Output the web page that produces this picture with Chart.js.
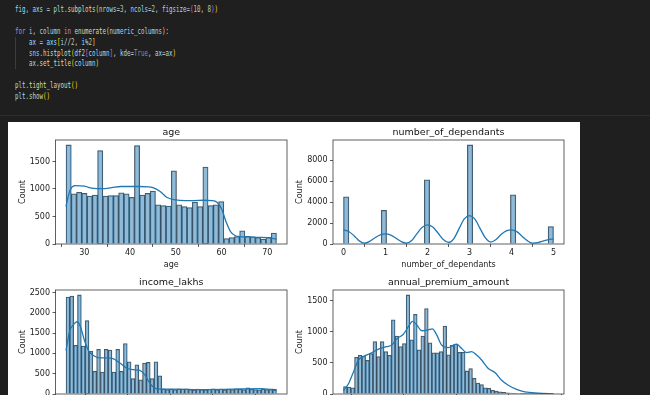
<!DOCTYPE html>
<html>
<head>
<meta charset="utf-8">
<script src="https://cdn.jsdelivr.net/npm/chart.js@4.4.0/dist/chart.umd.min.js"></script>
<style>
  html, body { margin: 0; padding: 0; }
  body { width: 650px; height: 395px; overflow: hidden; background: #1f1f1f; position: relative; }
  #code {
    position: absolute; left: 15.3px; top: 3.9px; margin: 0;
    font-family: 'DejaVu Sans Mono', monospace; font-size: 9px; line-height: 10.9px;
    color: #d4d4d4; white-space: pre;
    transform: scaleX(0.646); transform-origin: 0 0;
  }
  #guide { position: absolute; left: 15px; top: 37px; width: 1px; height: 32px; background: #3c3c3c; }
  #sep { position: absolute; left: 0; top: 115px; width: 650px; height: 1px; background: #2e2e2e; }
  #fig { position: absolute; left: 8px; top: 122px; width: 572px; height: 460px; background: #fff; }
  canvas { position: absolute; }
  .v { color: #9cdcfe; } .f { color: #dcdcaa; } .k { color: #c586c0; } .n { color: #b5cea8; }
  .c { color: #569cd6; } .b1 { color: #ffd700; } .b2 { color: #da70d6; }
</style>
</head>
<body>
<pre id="code"><span class="v">fig</span>, <span class="v">axs</span> = <span class="v">plt</span>.<span class="f">subplots</span><span class="b1">(</span><span class="v">nrows</span>=<span class="n">3</span>, <span class="v">ncols</span>=<span class="n">2</span>, <span class="v">figsize</span>=<span class="b2">(</span><span class="n">10</span>, <span class="n">8</span><span class="b2">)</span><span class="b1">)</span>

<span class="k">for</span> <span class="v">i</span>, <span class="v">column</span> <span class="k">in</span> <span class="f">enumerate</span><span class="b1">(</span><span class="v">numeric_columns</span><span class="b1">)</span>:
    <span class="v">ax</span> = <span class="v">axs</span><span class="b1">[</span><span class="v">i</span>//<span class="n">2</span>, <span class="v">i</span>%<span class="n">2</span><span class="b1">]</span>
    <span class="v">sns</span>.<span class="f">histplot</span><span class="b1">(</span><span class="v">df2</span><span class="b2">[</span><span class="v">column</span><span class="b2">]</span>, <span class="v">kde</span>=<span class="c">True</span>, <span class="v">ax</span>=<span class="v">ax</span><span class="b1">)</span>
    <span class="v">ax</span>.<span class="f">set_title</span><span class="b1">(</span><span class="v">column</span><span class="b1">)</span>

<span class="v">plt</span>.<span class="f">tight_layout</span><span class="b1">()</span>
<span class="v">plt</span>.<span class="f">show</span><span class="b1">()</span></pre>
<div id="guide"></div>
<div id="sep"></div>
<div id="fig"></div>
<canvas id="age-chart" width="290" height="150" style="left:8px;top:122px"></canvas>
<canvas id="dependants-chart" width="290" height="150" style="left:290px;top:122px"></canvas>
<canvas id="income-chart" width="290" height="150" style="left:8px;top:272px"></canvas>
<canvas id="premium-chart" width="290" height="150" style="left:290px;top:272px"></canvas>
<script>
// age: 40 bins from 26 to 72
const ageBinStart = 26;
const ageBinWidth = 1.15;
const ageCounts = [1800, 910, 940, 920, 870, 890, 1700, 870, 880, 880,
  930, 910, 850, 1790, 890, 920, 960, 710, 700, 690,
  1330, 710, 680, 660, 760, 680, 1400, 700, 710, 770,
  100, 115, 135, 240, 140, 130, 115, 90, 120, 200];
const ageKdeX = [26, 26.5, 27, 28, 30, 32, 34, 36, 38, 40, 42, 44, 45, 46.5, 48, 50, 52, 54, 56, 58, 59, 60, 61, 62, 63, 64, 66, 68, 70, 72];
const ageKdeY = [680, 870, 1000, 1060, 1050, 1010, 1005, 1025, 1045, 1045, 1045, 1040, 1025, 960, 850, 800, 790, 790, 795, 790, 760, 640, 400, 220, 150, 135, 130, 120, 115, 90];
const ageXTicks = [30, 40, 50, 60, 70];
const ageYTicks = [0, 500, 1000, 1500];

// number_of_dependants: 39 bins from 0 to 5
const depBinCount = 39;
const depValues = [0, 1, 2, 3, 4, 5];
const depCounts = [4520, 3220, 6150, 9480, 4700, 1670];
const depKdeX = [0, 0.125, 0.25, 0.375, 0.5, 0.625, 0.75, 0.875, 1, 1.125, 1.25, 1.375, 1.5, 1.625, 1.75, 1.875, 2,
  2.125, 2.25, 2.375, 2.5, 2.625, 2.75, 2.875, 3, 3.125, 3.25, 3.375, 3.5, 3.625, 3.75, 3.875, 4,
  4.125, 4.25, 4.375, 4.5, 4.625, 4.75, 4.875, 5];
const depKdeY = [1350, 1200, 800, 300, 80, 250, 600, 880, 960, 850, 550, 230, 90, 330, 1000, 1600, 1830,
  1620, 1050, 430, 150, 500, 1450, 2400, 2720, 2400, 1500, 600, 180, 400, 900, 1250, 1350,
  1180, 750, 320, 90, 130, 280, 420, 500];
const depXTicks = [0, 1, 2, 3, 4, 5];
const depYTicks = [0, 2000, 4000, 6000, 8000];

// income_lakhs: 55 bins from 1 to 100
const incomeBinStart = 1;
const incomeBinWidth = 1.8;
const incomeCounts = [2390, 2410, 1200, 2440, 1180, 1810, 1050, 560, 1100, 540,
  1100, 1080, 540, 1100, 560, 1240, 790, 380, 720, 350,
  760, 780, 380, 790, 450, 130, 110, 120, 110, 130,
  120, 130, 110, 100, 120, 110, 100, 120, 130, 110,
  120, 100, 120, 110, 130, 120, 110, 150, 120, 110,
  100, 120, 110, 130, 120];
const incomeKdeX = [1, 2.7, 4.6, 6.2, 7.7, 9.8, 11.8, 14.5, 16.8, 20, 23.1, 26.3, 29.4, 32.5, 35.7, 38, 40.4, 42.7, 45.1, 51.4, 63.9, 79.6, 92.2, 100];
const incomeKdeY = [1070, 1550, 1715, 1780, 1670, 1300, 1050, 930, 890, 890, 870, 765, 640, 600, 580, 475, 270, 145, 120, 120, 110, 120, 130, 85];
const incomeXTicks = [0, 20, 40, 60, 80, 100];
const incomeYTicks = [0, 500, 1000, 1500, 2000, 2500];

// annual_premium_amount: 57 bins from 3500 to 43500
const premiumBinStart = 3500;
const premiumBinWidth = 40000 / 57;
const premiumCounts = [120, 110, 100, 590, 620, 610, 540, 650, 840, 600,
  840, 680, 620, 1190, 930, 760, 810, 1590, 870, 1280,
  710, 930, 1370, 820, 660, 660, 680, 1090, 630, 780,
  800, 670, 670, 370, 410, 250, 175, 150, 100, 90,
  60, 45, 35, 25, 20, 15, 10, 8, 6, 5,
  4, 3, 2, 2, 1, 1, 1];
const premiumKdeX = [3500, 4450, 5400, 6350, 7300, 8570, 10160, 11740, 12690, 13640, 14910, 15860, 16620, 17450, 18400, 19670, 20430,
  21250, 22200, 23470, 24420, 25060, 26010, 26960, 27910, 28860, 29810, 31080, 32350, 33620, 34880, 36470, 38050, 40590, 43500];
const premiumKdeY = [57, 165, 355, 545, 600, 650, 720, 760, 785, 885, 960, 1080, 1165, 1110, 1015, 1030, 1045,
  950, 785, 745, 785, 800, 730, 665, 680, 625, 545, 410, 345, 220, 140, 75, 35, 15, 3];
const premiumXTicks = [10000, 20000, 30000, 40000];
const premiumYTicks = [0, 500, 1000, 1500];

const tickFont = { family: 'DejaVu Sans', size: 8 };
const textColor = '#222';

// matplotlib draws a full box round each axes
const framePlugin = {
  id: 'frame',
  afterDatasetsDraw(chart) {
    const { ctx, chartArea: a } = chart;
    ctx.save();
    ctx.strokeStyle = '#3a3a3a';
    ctx.lineWidth = 0.8;
    ctx.strokeRect(a.left, a.top, a.right - a.left, a.bottom - a.top);
    ctx.restore();
  }
};

function histChart(id, cfg) {
  const bars = cfg.counts.map((c, i) => ({ x: cfg.binStart + cfg.binWidth * (i + 0.5), y: c }));
  const kde = cfg.kdeX.map((x, i) => ({ x: x, y: cfg.kdeY[i] }));
  const lo = cfg.binStart;
  const hi = cfg.binStart + cfg.binWidth * cfg.counts.length;
  const margin = (hi - lo) * 0.05;

  return new Chart(document.getElementById(id), {
    type: 'bar',
    data: {
      datasets: [{
        type: 'line',
        data: kde,
        borderColor: '#1f77b4',
        borderWidth: 1.3,
        pointRadius: 0,
        cubicInterpolationMode: 'monotone',
        order: 0
      }, {
        data: bars,
        backgroundColor: 'rgba(31, 119, 180, 0.5)',
        borderColor: 'rgba(35, 45, 55, 0.8)',
        borderWidth: 0.6,
        barPercentage: 1,
        categoryPercentage: 1,
        order: 1
      }]
    },
    options: {
      responsive: false,
      animation: false,
      layout: { padding: { left: 0, right: cfg.padRight, top: 0, bottom: 0 } },
      plugins: {
        legend: { display: false },
        tooltip: { enabled: false },
        title: {
          display: true,
          text: cfg.title,
          fullSize: false,
          color: '#111',
          font: { family: 'DejaVu Sans', size: 9.5, weight: 'normal' },
          padding: { top: 4.5, bottom: 2.1 }
        }
      },
      scales: {
        x: {
          type: 'linear',
          min: lo - margin,
          max: hi + margin,
          offset: false,
          border: { display: false },
          grid: { drawOnChartArea: false, tickLength: 3, color: '#333', tickWidth: 0.8 },
          ticks: { padding: 1, color: textColor, font: tickFont, maxRotation: 0, autoSkip: false, callback: v => String(v) },
          title: { display: true, text: cfg.title, color: textColor, font: tickFont, padding: { top: 0, bottom: 2.7 } },
          afterBuildTicks: s => { s.ticks = cfg.xTicks.map(v => ({ value: v })); },
          afterFit: s => { s.height = 28; }
        },
        y: {
          min: 0,
          max: Math.max(...cfg.counts) * 1.05,
          border: { display: false },
          grid: { drawOnChartArea: false, tickLength: 3, color: '#333', tickWidth: 0.8 },
          ticks: { padding: 2.5, color: textColor, font: tickFont, autoSkip: false, callback: v => String(v) },
          title: { display: true, text: 'Count', color: textColor, font: tickFont, padding: { top: cfg.countPad, bottom: 0 } },
          afterBuildTicks: s => { s.ticks = cfg.yTicks.map(v => ({ value: v })); },
          afterFit: s => { s.width = cfg.yWidth; }
        }
      }
    },
    plugins: [framePlugin]
  });
}

histChart('age-chart', {
  title: 'age', counts: ageCounts, binStart: ageBinStart, binWidth: ageBinWidth,
  kdeX: ageKdeX, kdeY: ageKdeY, xTicks: ageXTicks, yTicks: ageYTicks,
  yWidth: 47.5, padRight: 11, countPad: 9.9
});

const depBinWidth = 5 / depBinCount;
const depBinned = new Array(depBinCount).fill(0);
depValues.forEach((v, i) => {
  depBinned[Math.min(Math.floor(v / depBinWidth), depBinCount - 1)] = depCounts[i];
});
histChart('dependants-chart', {
  title: 'number_of_dependants', counts: depBinned, binStart: 0, binWidth: depBinWidth,
  kdeX: depKdeX, kdeY: depKdeY, xTicks: depXTicks, yTicks: depYTicks,
  yWidth: 43, padRight: 16, countPad: 4.9
});

histChart('income-chart', {
  title: 'income_lakhs', counts: incomeCounts, binStart: incomeBinStart, binWidth: incomeBinWidth,
  kdeX: incomeKdeX, kdeY: incomeKdeY, xTicks: incomeXTicks, yTicks: incomeYTicks,
  yWidth: 47.5, padRight: 11, countPad: 9.9
});

histChart('premium-chart', {
  title: 'annual_premium_amount', counts: premiumCounts, binStart: premiumBinStart, binWidth: premiumBinWidth,
  kdeX: premiumKdeX, kdeY: premiumKdeY, xTicks: premiumXTicks, yTicks: premiumYTicks,
  yWidth: 43, padRight: 16, countPad: 4.9
});
</script>
</body>
</html>
